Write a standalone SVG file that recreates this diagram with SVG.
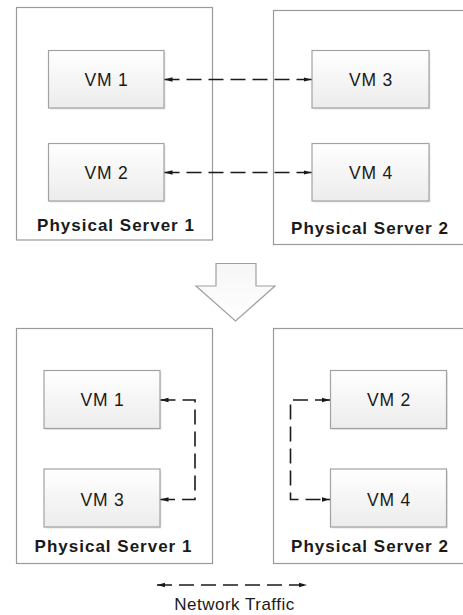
<svg xmlns="http://www.w3.org/2000/svg" width="463" height="615" viewBox="0 0 463 615">
<defs>
<linearGradient id="vmg" x1="0" y1="0" x2="0" y2="1">
<stop offset="0" stop-color="#ffffff"/>
<stop offset="1" stop-color="#ececec"/>
</linearGradient>
<linearGradient id="arg" x1="0" y1="0" x2="0" y2="1">
<stop offset="0" stop-color="#f6f6f6"/>
<stop offset="1" stop-color="#ffffff"/>
</linearGradient>
<marker id="ah" viewBox="0 0 8 6" refX="8" refY="3" markerWidth="8" markerHeight="6" markerUnits="userSpaceOnUse" orient="auto-start-reverse">
<path d="M0,0.8 L8,3 L0,5.2 z" fill="#1a1a1a"/>
</marker>
<style>
.srv{fill:#ffffff;stroke:#9a9a9a;stroke-width:1.2}
.vm{fill:url(#vmg);stroke:#a2a2a2;stroke-width:1.2}
.sh{fill:#e6e6e6}
.vt{font-family:"Liberation Sans",Arial,sans-serif;font-size:17.5px;letter-spacing:0.8px;fill:#1a1a1a;text-anchor:middle}
.st{font-family:"Liberation Sans",Arial,sans-serif;font-size:17px;font-weight:bold;letter-spacing:1px;fill:#1a1a1a;text-anchor:middle}
.lt{font-family:"Liberation Sans",Arial,sans-serif;font-size:17px;letter-spacing:0.5px;fill:#1a1a1a;text-anchor:middle}
.cn{fill:none;stroke:#1a1a1a;stroke-width:1.6;stroke-dasharray:15,7;marker-start:url(#ah);marker-end:url(#ah)}
</style>
</defs>

<g id="server1-top">
<rect class="srv" x="16.5" y="7.5" width="196" height="232.5"/>
<text class="st" x="116" y="231">Physical Server 1</text>
</g>
<g id="server2-top">
<rect class="srv" x="273.5" y="10.5" width="200" height="234"/>
<text class="st" x="370" y="233.5">Physical Server 2</text>
</g>
<g id="vm1-top">
<rect class="sh" x="50" y="52" width="115.5" height="57.5"/>
<rect class="vm" x="48.5" y="50.5" width="115.5" height="57.5"/>
<text class="vt" x="106.5" y="85.5">VM 1</text>
</g>
<g id="vm2-top">
<rect class="sh" x="50" y="145" width="115.5" height="57.5"/>
<rect class="vm" x="48.5" y="143.5" width="115.5" height="57.5"/>
<text class="vt" x="106.5" y="178.5">VM 2</text>
</g>
<g id="vm3-top">
<rect class="sh" x="313.5" y="52" width="117" height="57.5"/>
<rect class="vm" x="312" y="50.5" width="117" height="57.5"/>
<text class="vt" x="371" y="85.5">VM 3</text>
</g>
<g id="vm4-top">
<rect class="sh" x="313.5" y="145" width="117" height="57.5"/>
<rect class="vm" x="312" y="143.5" width="117" height="57.5"/>
<text class="vt" x="371" y="178.5">VM 4</text>
</g>

<g id="transition-arrow">
<polygon points="216,263.5 256,263.5 256,286 275,286 235.5,321 196,286 216,286" fill="url(#arg)" stroke="#a0a0a0" stroke-width="1.2"/>
</g>

<g id="server1-bottom">
<rect class="srv" x="16.5" y="328.5" width="196" height="235"/>
<text class="st" x="113.5" y="552">Physical Server 1</text>
</g>
<g id="server2-bottom">
<rect class="srv" x="273.5" y="328.5" width="200" height="235"/>
<text class="st" x="370" y="552">Physical Server 2</text>
</g>
<g id="vm1-bottom">
<rect class="sh" x="45.5" y="372" width="116" height="58"/>
<rect class="vm" x="44" y="370.5" width="116" height="58"/>
<text class="vt" x="102.5" y="406">VM 1</text>
</g>
<g id="vm3-bottom">
<rect class="sh" x="45.5" y="470.5" width="116" height="58"/>
<rect class="vm" x="44" y="469" width="116" height="58"/>
<text class="vt" x="102.5" y="505.5">VM 3</text>
</g>
<g id="vm2-bottom">
<rect class="sh" x="332" y="372" width="116" height="58"/>
<rect class="vm" x="330.5" y="370.5" width="116" height="58"/>
<text class="vt" x="389" y="406">VM 2</text>
</g>
<g id="vm4-bottom">
<rect class="sh" x="332" y="470.5" width="116" height="58"/>
<rect class="vm" x="330.5" y="469" width="116" height="58"/>
<text class="vt" x="389" y="505.5">VM 4</text>
</g>

<g id="connectors">
<path class="cn" d="M164.5,79.5 H311.5"/>
<path class="cn" d="M164.5,172.5 H311.5"/>
<path class="cn" d="M160.5,400 H195 V499.5 H160.5"/>
<path class="cn" d="M330,400 H290.5 V499.5 H330"/>
</g>

<g id="legend">
<path class="cn" d="M157,585 H307"/>
<text class="lt" x="234.5" y="610">Network Traffic</text>
</g>
</svg>
